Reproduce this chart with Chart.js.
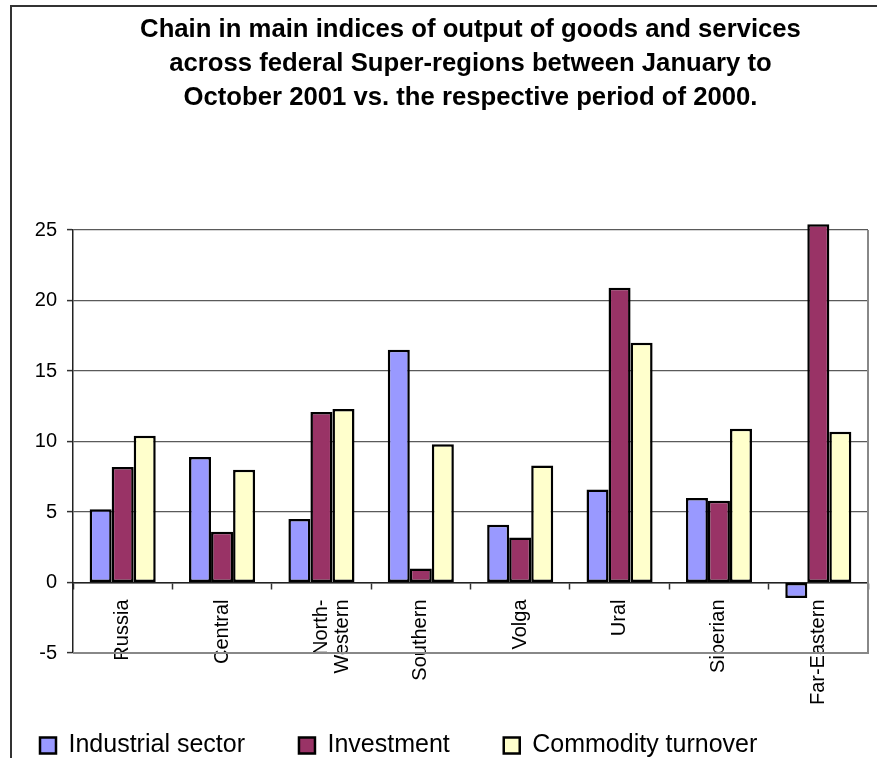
<!doctype html>
<html>

<head>
    <script src="https://cdn.jsdelivr.net/npm/chart.js"></script>
    <style type="text/css">
        html, body {
            margin: 0;
            padding: 0;
            background: #fff;
            overflow: hidden;
        }

        #frame {
            position: absolute;
            left: 10px;
            top: 5px;
            width: 900px;
            height: 800px;
            border-left: 2px solid #333;
            border-top: 2px solid #333;
        }

        #wrap {
            position: absolute;
            left: 0;
            top: 0;
            width: 877px;
            height: 758px;
        }
    </style>
</head>

<body>
    <div id="frame"></div>
    <div id="wrap">
        <canvas id="regionsChart" width="877" height="758"></canvas>
    </div>

    <script>
        // growth by federal super-region, Jan-Oct 2001 vs Jan-Oct 2000
        const regions = ['Russia', 'Central', ['North-', 'Western'], 'Southern', 'Volga', 'Ural', 'Siberian', 'Far-Eastern'];
        const industrial = [5.2, 8.9, 4.5, 16.5, 4.1, 6.6, 6.0, -1.1];
        const investment = [8.2, 3.6, 12.1, 1.0, 3.2, 20.9, 5.8, 25.4];
        const turnover = [10.4, 8.0, 12.3, 9.8, 8.3, 17.0, 10.9, 10.7];
        const seriesNames = ['Industrial sector', 'Investment', 'Commodity turnover'];
        const yTicks = [-5, 0, 5, 10, 15, 20, 25];

        const FONT = "'Liberation Sans', Arial, sans-serif";

        // grey frame on the right and bottom of the plot
        const plotFrame = {
            id: 'plotFrame',
            afterDatasetsDraw(chart) {
                const { ctx, chartArea: a } = chart;
                ctx.save();
                ctx.strokeStyle = '#888';
                ctx.lineWidth = 2;
                ctx.beginPath();
                ctx.moveTo(a.left, a.bottom);
                ctx.lineTo(a.right, a.bottom);
                ctx.lineTo(a.right, a.top);
                ctx.stroke();
                ctx.restore();
            }
        };

        const barStyle = {
            borderColor: '#000',
            borderWidth: 2.5,
            borderSkipped: false,
            categoryPercentage: 0.665,
            barPercentage: 1
        };

        const data = {
            labels: regions,
            datasets: [
                Object.assign({ label: seriesNames[0], data: industrial, backgroundColor: '#9999FF' }, barStyle),
                Object.assign({ label: seriesNames[1], data: investment, backgroundColor: '#993366', clip: false }, barStyle),
                Object.assign({ label: seriesNames[2], data: turnover, backgroundColor: '#FFFFCC' }, barStyle)
            ]
        };

        const config = {
            type: 'bar',
            data: data,
            plugins: [plotFrame],
            options: {
                responsive: false,
                animation: false,
                layout: {
                    padding: { left: -14, right: 9, top: 0, bottom: -10 }
                },
                scales: {
                    x: {
                        position: { y: 0 },
                        offset: true,
                        grid: {
                            offset: true,
                            drawOnChartArea: false,
                            drawTicks: true,
                            tickLength: 6,
                            tickColor: '#333',
                            tickWidth: 1.5
                        },
                        border: { color: '#222', width: 1.5 },
                        ticks: {
                            autoSkip: false,
                            minRotation: 90,
                            maxRotation: 90,
                            padding: 11,
                            color: '#000',
                            font: { family: FONT, size: 20, lineHeight: 1.05 }
                        }
                    },
                    y: {
                        min: -5,
                        max: 25,
                        afterFit: (s) => { s.width = 87; },
                        afterBuildTicks: (s) => { s.ticks = yTicks.map(v => ({ value: v })); },
                        grid: {
                            color: (c) => c.tick && c.tick.value === -5 ? 'rgba(0,0,0,0)' : '#5a5a5a',
                            lineWidth: 1.2,
                            drawTicks: true,
                            tickLength: 6,
                            tickColor: '#333',
                            tickWidth: 1.5
                        },
                        border: { color: '#222', width: 1.5 },
                        ticks: {
                            padding: 10,
                            color: '#000',
                            font: { family: FONT, size: 20 }
                        }
                    }
                },
                plugins: {
                    title: {
                        display: true,
                        fullSize: false,
                        text: [
                            'Chain in main indices of output of goods and services',
                            'across federal Super-regions between January to',
                            'October 2001 vs. the respective period of 2000.'
                        ],
                        color: '#000',
                        font: { family: FONT, size: 25.7, weight: 'bold', lineHeight: '34px' },
                        padding: { top: 13, bottom: 115 }
                    },
                    legend: {
                        position: 'bottom',
                        align: 'start',
                        title: {
                            display: true,
                            text: '',
                            padding: 0,
                            font: { size: 10, lineHeight: '26px' }
                        },
                        labels: {
                            boxWidth: 16,
                            boxHeight: 16,
                            padding: 54,
                            color: '#000',
                            font: { family: FONT, size: 25 }
                        }
                    },
                    tooltip: { enabled: false }
                }
            }
        };

        const ctx = document.getElementById('regionsChart').getContext('2d');
        const regionsChart = new Chart(ctx, config);
    </script>

</body>

</html>
